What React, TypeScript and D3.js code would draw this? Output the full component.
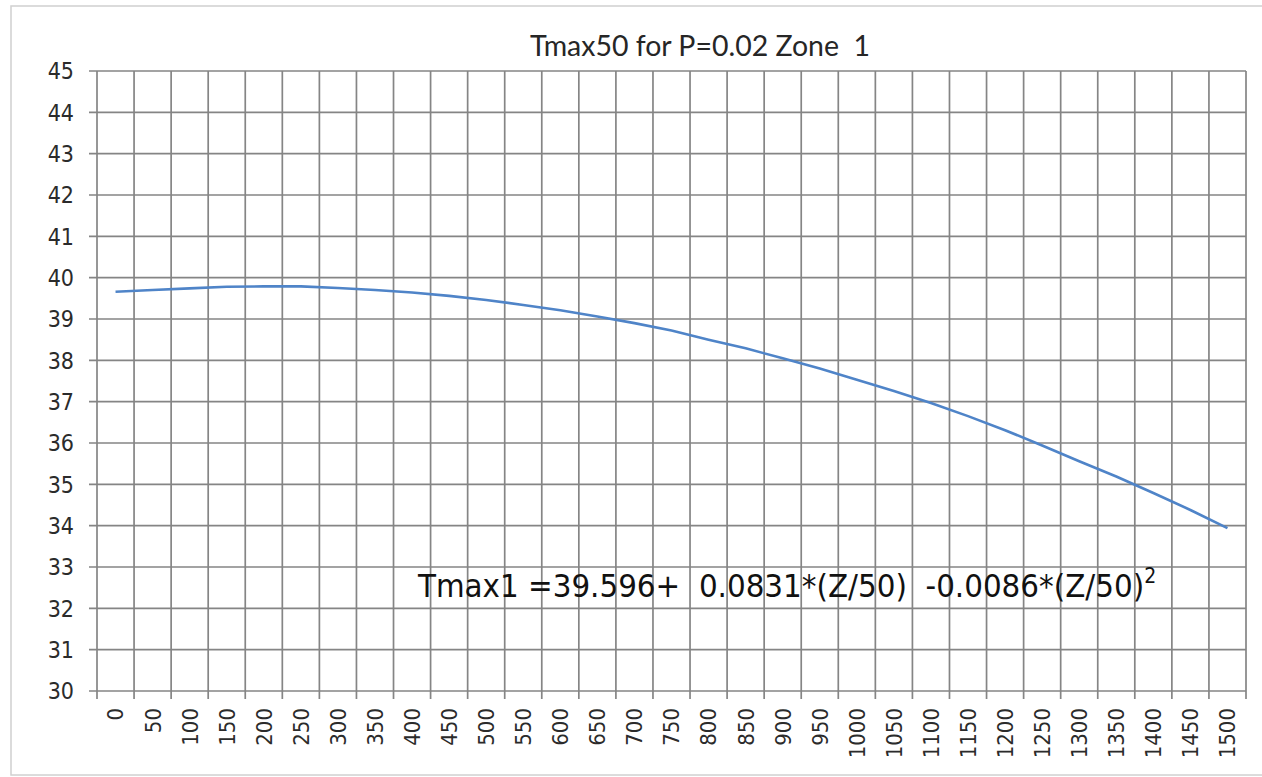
import React, { useEffect, useRef } from "react";
import * as d3 from "d3";

// elevation categories (m) and the Tmax50 values
const zValues = [
  "0", "50", "100", "150", "200", "250", "300", "350", "400", "450", "500",
  "550", "600", "650", "700", "750", "800", "850", "900", "950", "1000",
  "1050", "1100", "1150", "1200", "1250", "1300", "1350", "1400", "1450", "1500",
];
const tmaxValues = [
  39.66, 39.7, 39.74, 39.78, 39.79, 39.79, 39.75, 39.7, 39.64, 39.56, 39.46,
  39.34, 39.21, 39.06, 38.9, 38.72, 38.5, 38.29, 38.05, 37.8, 37.53,
  37.26, 36.97, 36.65, 36.31, 35.94, 35.56, 35.19, 34.79, 34.38, 33.94,
];
const yDomain = [30, 45];
const chartTitle = "Tmax50 for P=0.02 Zone  1";
const equationMain = "Tmax1 =39.596+  0.0831*(Z/50)  -0.0086*(Z/50)";
const equationSup = "2";

const App = () => {
  const svgRef = useRef<SVGSVGElement>(null);

  useEffect(() => {
    const W = 1262;
    const H = 777;
    const left = 97, right = 1246, top = 71, bottom = 691;
    const labelFont = "'DejaVu Sans Condensed', 'DejaVu Sans', sans-serif";

    const svg = d3.select(svgRef.current).attr("width", W).attr("height", H);
    svg.selectAll("*").remove();

    svg.append("rect")
      .attr("x", 0).attr("y", 0).attr("width", W).attr("height", H)
      .attr("fill", "#ffffff");

    // outer chart border
    svg.append("rect")
      .attr("x", 11).attr("y", 6).attr("width", W + 20).attr("height", 769)
      .attr("fill", "none")
      .attr("stroke", "#d0d0d0")
      .attr("stroke-width", 1.5);

    const x = d3.scaleBand().domain(zValues).range([left, right]).padding(0);
    const y = d3.scaleLinear().domain(yDomain).range([bottom, top]);

    const grid = svg.append("g").attr("stroke", "#858585").attr("stroke-width", 1.7);

    // horizontal gridlines + ticks
    grid.selectAll(".hgrid")
      .data(y.ticks(15))
      .enter().append("line")
      .attr("x1", left - 8).attr("x2", right)
      .attr("y1", d => y(d)).attr("y2", d => y(d));

    // vertical gridlines at category boundaries
    const bounds = zValues.map(d => x(d) as number).concat([right]);
    grid.selectAll(".vgrid")
      .data(bounds)
      .enter().append("line")
      .attr("x1", d => d).attr("x2", d => d)
      .attr("y1", top).attr("y2", bottom + 8);

    // y labels
    svg.append("g").selectAll("text")
      .data(y.ticks(15))
      .enter().append("text")
      .attr("x", 74)
      .attr("y", d => y(d))
      .attr("dy", "0.36em")
      .attr("text-anchor", "end")
      .attr("font-family", labelFont)
      .attr("font-size", 23)
      .attr("fill", "#2b2b2b")
      .text(d => d);

    // x labels, rotated
    svg.append("g").selectAll("text")
      .data(zValues)
      .enter().append("text")
      .attr("transform", d => `translate(${(x(d) as number) + x.bandwidth() / 2},${bottom + 17}) rotate(-90)`)
      .attr("dy", "0.36em")
      .attr("text-anchor", "end")
      .attr("font-family", labelFont)
      .attr("font-size", 22)
      .attr("fill", "#2b2b2b")
      .text(d => d);

    // curve
    const line = d3.line<number>()
      .x((_, i) => (x(zValues[i]) as number) + x.bandwidth() / 2)
      .y(d => y(d));

    svg.append("path")
      .datum(tmaxValues)
      .attr("d", line)
      .attr("fill", "none")
      .attr("stroke", "#4f84c8")
      .attr("stroke-width", 2.6)
      .attr("stroke-linejoin", "round");

    // title
    svg.append("text")
      .attr("x", 530)
      .attr("y", 56)
      .attr("font-family", "Lato, 'Open Sans', sans-serif")
      .attr("font-size", 29)
      .attr("textLength", 340)
      .attr("lengthAdjust", "spacingAndGlyphs")
      .attr("fill", "#262626")
      .style("white-space", "pre")
      .text(chartTitle);

    // equation label
    const eq = svg.append("text")
      .attr("x", 418)
      .attr("y", 597)
      .attr("font-family", labelFont)
      .attr("font-size", 32.7)
      .attr("fill", "#111111")
      .style("white-space", "pre");
    eq.append("tspan").text(equationMain);
    eq.append("tspan")
      .attr("dy", -14)
      .attr("font-size", 21)
      .text(equationSup);
  }, []);

  return (
    <svg
      ref={svgRef}
      style={{ position: "absolute", left: 0, top: 0, display: "block" }}
    ></svg>
  );
};

export default App;
